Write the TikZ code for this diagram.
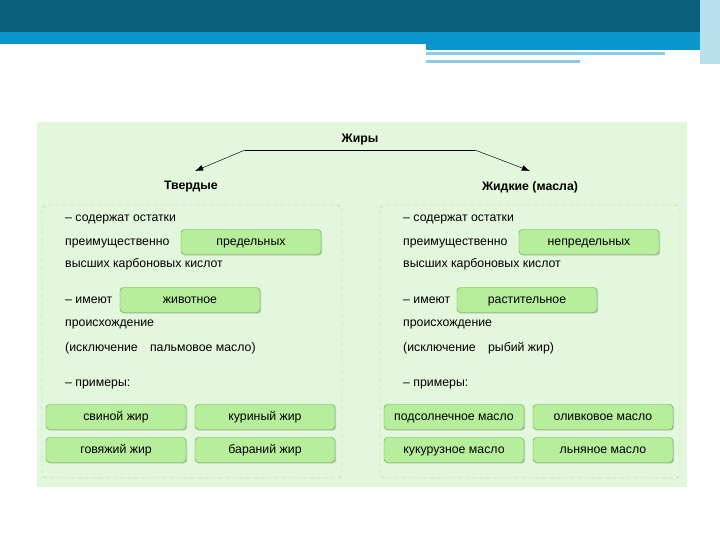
\documentclass[tikz,border=0pt]{standalone}
\usepackage{fontspec}
\setmainfont{Liberation Sans}
\usetikzlibrary{shadows,arrows,arrows.meta}
\definecolor{barDark}{HTML}{0A5F7A}
\definecolor{barBlue}{HTML}{0896CC}
\definecolor{barLight}{HTML}{8CCBE6}
\definecolor{panel}{HTML}{E2F7DC}
\definecolor{boxFill}{HTML}{B6EE9C}
\definecolor{boxLine}{HTML}{5DAF4C}
\tikzstyle{gbox} = [draw=boxLine, fill=boxFill, rounded corners=3pt,
    drop shadow={shadow xshift=1pt,shadow yshift=-1pt,opacity=0.35},
    minimum height=0.75cm, minimum width=4.2cm, inner sep=0pt,
    text height=1.6ex, text depth=.4ex, font=\fontsize{10.5}{12}\selectfont]
\tikzstyle{txt} = [anchor=west, inner sep=0pt, text height=1.6ex, text depth=.4ex,
    font=\fontsize{10.5}{12}\selectfont]
\tikzstyle{head} = [inner sep=0pt, font=\fontsize{10.5}{12}\selectfont\bfseries]
\tikzstyle{frame} = [draw=boxLine!60, dashed, rounded corners=4pt]
\begin{document}
\begin{tikzpicture}[x=0.03cm,y=-0.03cm,>=latex']
    \useasboundingbox (0,0) rectangle (720,540);
    % slide banner
    \fill[barDark] (0,0) rectangle (720,32);
    \fill[barBlue] (0,32) rectangle (720,44);
    \fill[barBlue] (426,44) rectangle (720,50);
    \fill[barLight] (426,52) rectangle (665,55);
    \fill[barLight] (426,60) rectangle (580,63);
    \fill[barLight!60] (700,0) rectangle (720,64);
    % panel
    \fill[panel] (37,122) rectangle (687,487);
    \node[head] (fats) at (360,140) {Жиры};
    \node[head] (solid) at (191,187) {Твердые};
    \node[head] (liquid) at (530,187) {Жидкие (масла)};
    \coordinate (lj) at (245,150);
    \coordinate (rj) at (475,150);
    \draw (lj) -- (rj);
    \draw[-{Latex[length=7pt,width=5pt]}] (lj) -- (195,171);
    \draw[-{Latex[length=7pt,width=5pt]}] (rj) -- (530,171);
    \draw[frame] (42,205) rectangle (342,478);
    \draw[frame] (380,205) rectangle (680,478);
    % left column
    \node[txt] (l1) at (65,218) {-- содержат остатки};
    \node[txt] (l2) at (65,242) {преимущественно};
    \node[gbox] (lsat) at (251,242) {предельных};
    \node[txt] (l3) at (65,264) {высших карбоновых кислот};
    \node[txt] (l4) at (65,300) {-- имеют};
    \node[gbox] (lorig) at (190,300) {животное};
    \node[txt] (l5) at (65,323) {происхождение};
    \node[txt] (l6) at (65,348) {(исключение\quad пальмовое масло)};
    \node[txt] (l7) at (65,383) {-- примеры:};
    \node[gbox] (pork) at (116,417) {свиной жир};
    \node[gbox] (chick) at (265,417) {куриный жир};
    \node[gbox] (beef) at (116,450) {говяжий жир};
    \node[gbox] (lamb) at (265,450) {бараний жир};
    % right column
    \node[txt] (r1) at (403,218) {-- содержат остатки};
    \node[txt] (r2) at (403,242) {преимущественно};
    \node[gbox] (rsat) at (589,242) {непредельных};
    \node[txt] (r3) at (403,264) {высших карбоновых кислот};
    \node[txt] (r4) at (403,300) {-- имеют};
    \node[gbox] (rorig) at (527,300) {растительное};
    \node[txt] (r5) at (403,323) {происхождение};
    \node[txt] (r6) at (403,348) {(исключение\quad рыбий жир)};
    \node[txt] (r7) at (403,383) {-- примеры:};
    \node[gbox] (sunf) at (454,417) {подсолнечное масло};
    \node[gbox] (olive) at (603,417) {оливковое масло};
    \node[gbox] (corn) at (454,450) {кукурузное масло};
    \node[gbox] (flax) at (603,450) {льняное масло};
\end{tikzpicture}
\end{document}
